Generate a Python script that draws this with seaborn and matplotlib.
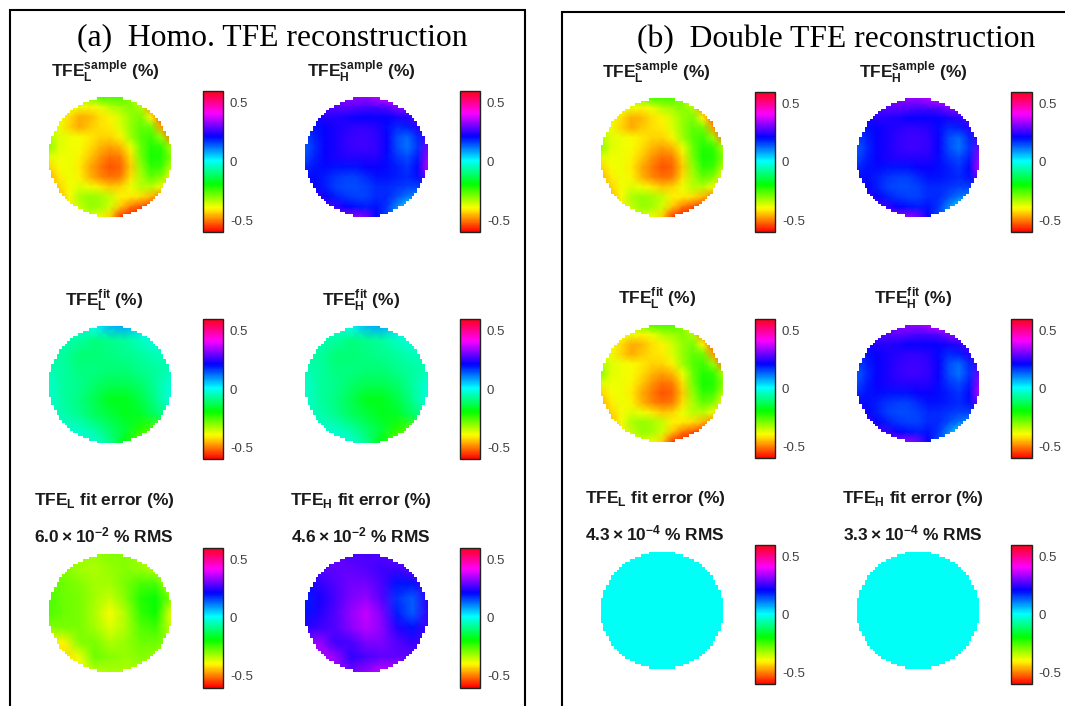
import matplotlib
matplotlib.use("Agg")
import matplotlib.pyplot as plt
import numpy as np
import seaborn as sns
from matplotlib.patches import Polygon, Rectangle

# TFE maps, in percent, row 0 is the top of the disc
sample_L = [
    [-.30, -.30, -.32, -.32, -.30, -.25, -.25, -.25, -.30, -.40, -.50, -.55, -.55],
    [-.38, -.38, -.38, -.38, -.40, -.38, -.34, -.32, -.30, -.33, -.48, -.55, -.55],
    [-.37, -.38, -.42, -.46, -.45, -.42, -.40, -.36, -.31, -.29, -.40, -.52, -.55],
    [-.35, -.38, -.43, -.46, -.44, -.42, -.41, -.37, -.31, -.27, -.28, -.47, -.55],
    [-.33, -.37, -.38, -.39, -.41, -.43, -.43, -.40, -.32, -.26, -.24, -.31, -.50],
    [-.30, -.37, -.38, -.39, -.42, -.45, -.47, -.45, -.38, -.28, -.22, -.23, -.33],
    [-.37, -.38, -.38, -.40, -.44, -.48, -.51, -.50, -.42, -.29, -.21, -.22, -.30],
    [-.43, -.39, -.38, -.41, -.46, -.50, -.53, -.52, -.44, -.31, -.23, -.24, -.34],
    [-.46, -.41, -.38, -.40, -.45, -.49, -.51, -.50, -.42, -.33, -.27, -.30, -.40],
    [-.46, -.43, -.39, -.37, -.38, -.41, -.44, -.43, -.38, -.34, -.34, -.38, -.45],
    [-.46, -.45, -.39, -.33, -.31, -.32, -.35, -.40, -.41, -.42, -.45, -.50, -.50],
    [-.46, -.45, -.41, -.35, -.31, -.32, -.36, -.44, -.50, -.53, -.55, -.55, -.55],
    [-.46, -.45, -.42, -.38, -.36, -.38, -.43, -.55, -.58, -.58, -.58, -.58, -.58],
]
sample_H = [
    [.30, .30, .30, .30, .32, .33, .33, .36, .38, .38, .38, .38, .38],
    [.28, .28, .28, .28, .29, .28, .27, .27, .28, .31, .33, .33, .33],
    [.22, .23, .24, .24, .23, .22, .22, .22, .22, .23, .24, .28, .30],
    [.17, .20, .22, .23, .24, .25, .25, .24, .21, .18, .19, .24, .30],
    [.16, .19, .22, .23, .25, .26, .26, .25, .22, .15, .13, .18, .26],
    [.14, .18, .22, .23, .25, .26, .26, .25, .22, .15, .12, .17, .30],
    [.15, .19, .22, .23, .24, .24, .24, .24, .21, .17, .15, .19, .33],
    [.18, .20, .21, .20, .20, .20, .22, .22, .21, .19, .17, .21, .36],
    [.21, .21, .19, .17, .16, .16, .18, .20, .20, .19, .18, .20, .30],
    [.24, .22, .19, .16, .15, .15, .16, .18, .18, .17, .16, .16, .20],
    [.28, .26, .22, .19, .17, .16, .16, .18, .18, .15, .12, .10, .10],
    [.30, .30, .28, .25, .22, .20, .19, .20, .17, .10, .04, .03, .03],
    [.32, .32, .32, .32, .32, .33, .30, .22, .15, .10, .03, .03, .03],
]
homo_fit = [
    [-.03, -.03, -.02, .00, .07, .08, .03, .00, .00],
    [-.05, -.05, -.07, -.09, -.08, -.07, -.04, -.01, .00],
    [-.06, -.07, -.10, -.10, -.09, -.08, -.07, -.05, -.04],
    [-.05, -.07, -.09, -.09, -.10, -.10, -.08, -.07, -.05],
    [-.03, -.07, -.08, -.11, -.13, -.13, -.11, -.07, -.02],
    [-.03, -.07, -.09, -.13, -.17, -.17, -.14, -.08, -.01],
    [-.03, -.06, -.08, -.12, -.15, -.17, -.16, -.11, -.06],
    [-.02, -.03, -.04, -.07, -.11, -.15, -.22, -.26, -.20],
    [-.01, -.01, -.01, -.02, -.08, -.18, -.28, -.30, -.30],
]
homo_err_L = [
    [-.30, -.30, -.31, -.31, -.30, -.30, -.32, -.36, -.38],
    [-.29, -.30, -.32, -.33, -.31, -.30, -.31, -.34, -.38],
    [-.27, -.28, -.30, -.32, -.32, -.29, -.25, -.25, -.36],
    [-.25, -.28, -.29, -.32, -.35, -.30, -.22, -.19, -.30],
    [-.25, -.28, -.29, -.33, -.39, -.33, -.23, -.20, -.38],
    [-.30, -.29, -.29, -.32, -.37, -.33, -.26, -.24, -.36],
    [-.40, -.40, -.30, -.29, -.33, -.31, -.28, -.28, -.30],
    [-.42, -.42, -.38, -.28, -.30, -.31, -.30, -.31, -.33],
    [-.42, -.42, -.38, -.34, -.33, -.33, -.33, -.33, -.33],
]
homo_err_H = [
    [.30, .30, .30, .27, .27, .28, .30, .32, .34],
    [.27, .28, .29, .29, .28, .26, .26, .29, .33],
    [.22, .25, .28, .30, .30, .27, .20, .20, .28],
    [.19, .23, .27, .31, .33, .28, .17, .14, .24],
    [.20, .24, .28, .33, .37, .31, .19, .14, .25],
    [.24, .26, .28, .32, .36, .32, .24, .20, .26],
    [.32, .33, .26, .27, .31, .31, .28, .25, .27],
    [.37, .36, .33, .25, .27, .29, .29, .29, .30],
    [.38, .37, .33, .30, .33, .37, .37, .35, .35],
]
double_err = [[0.0, 0.0], [0.0, 0.0]]

tick_vals = [-0.5, 0, 0.5]
tick_labels = ["-0.5", "0", "0.5"]

W, H = 1065, 706
DISC_CELLS = 46  # the original maps are about this many cells across

sns.set_style("white")
plt.rcParams["font.family"] = ["Liberation Sans", "DejaVu Sans"]
plt.rcParams["mathtext.fontset"] = "custom"
plt.rcParams["mathtext.rm"] = "Liberation Sans"
plt.rcParams["mathtext.bf"] = "Liberation Sans:bold"

fig = plt.figure(figsize=(W / 100, H / 100), dpi=100)


# axes from pixel box, y measured from the top of the image
def pixelAxes(x0, x1, y0, y1):
    return fig.add_axes([x0 / W, 1 - y1 / H, (x1 - x0) / W, (y1 - y0) / H])


def figText(x, y, s, **kw):
    fig.text(x / W, 1 - y / H, s, ha="center", va="center", **kw)


# stepped outline of the disc in axes coords, same look as the coarse sampling
def discOutline(ax):
    right = []
    for i in range(DISC_CELLS):
        yc = (i + 0.5) / DISC_CELLS - 0.5
        half = round(np.sqrt(0.25 - yc * yc) * DISC_CELLS) / DISC_CELLS
        right.append((0.5 + half, i / DISC_CELLS))
        right.append((0.5 + half, (i + 1) / DISC_CELLS))
    left = [(1 - x, y) for x, y in reversed(right)]
    return Polygon(right + left, transform=ax.transAxes, fc="none", ec="none")


# one disc map with its own colorbar
def drawMap(values, disc, bar):
    ax = pixelAxes(*disc)
    cax = pixelAxes(*bar)
    data = np.array(values)
    sns.heatmap(data, ax=ax, cbar_ax=cax, cmap="hsv", vmin=-0.6, vmax=0.6,
                xticklabels=False, yticklabels=False, shading="gouraud",
                cbar_kws={"ticks": tick_vals})
    n = data.shape[0] - 1
    ax.set_xlim(0, n)
    ax.set_ylim(n, 0)
    ax.axis("off")
    mesh = ax.collections[0]
    outline = discOutline(ax)
    ax.add_patch(outline)
    mesh.set_clip_path(outline)

    cax.set_yticklabels(tick_labels)
    cax.tick_params(axis="y", direction="in", length=2, width=0.6, color="#333333",
                    labelsize=9.5, labelcolor="#404040", pad=5, right=True)
    mesh.colorbar.outline.set_linewidth(1.0)
    mesh.colorbar.outline.set_edgecolor("#222222")


def sampleTitle(sub, sup):
    return r"$\mathbf{TFE}_{\mathbf{%s}}^{\mathbf{%s}}$ (%%)" % (sub, sup)


def errTitle(sub):
    return r"$\mathbf{TFE}_{\mathbf{%s}}$ fit error (%%)" % sub


def rmsTitle(mant, exp):
    return r"$\mathbf{%s\times10^{-%s}}$ %% RMS" % (mant, exp)


title_kw = dict(fontsize=12.5, fontweight="bold", color="#1a1a1a")

# panel frames, they run off the image on the open sides
fig.add_artist(Rectangle((9.5 / W, -0.05), 515 / W, 1.05 - 10.5 / H, transform=fig.transFigure,
                         fill=False, ec="black", lw=1.5))
fig.add_artist(Rectangle((562 / W, -0.05), 600 / W, 1.05 - 12 / H, transform=fig.transFigure,
                         fill=False, ec="black", lw=1.5))

figText(272, 38, "(a)  Homo. TFE reconstruction", family="Liberation Serif", fontsize=22.8, color="black")
figText(836, 40, "(b)  Double TFE reconstruction", family="Liberation Serif", fontsize=22.8, color="black")

# panel (a)
drawMap(sample_L, (48.7, 171.3, 97.3, 216.7), (203, 223, 91, 232))
drawMap(sample_H, (305, 427.7, 97.3, 216.7), (459.5, 480, 91, 232))
drawMap(homo_fit, (48.7, 171.3, 325.7, 443.3), (203, 223, 319, 459))
drawMap(homo_fit, (305, 427.7, 325.7, 443.3), (459.5, 480, 319, 459))
drawMap(homo_err_L, (48.7, 171.3, 554, 671.7), (203, 223, 547.5, 687.5))
drawMap(homo_err_H, (305, 427.7, 554, 671.7), (459.5, 480, 547.5, 687.5))

figText(105, 72, sampleTitle("L", "sample"), **title_kw)
figText(361, 72, sampleTitle("H", "sample"), **title_kw)
figText(104, 300, sampleTitle("L", "fit"), **title_kw)
figText(361, 300, sampleTitle("H", "fit"), **title_kw)
figText(104, 500, errTitle("L"), **title_kw)
figText(361, 500, errTitle("H"), **title_kw)
figText(104, 535, rmsTitle("6.0", "2"), **title_kw)
figText(361, 535, rmsTitle("4.6", "2"), **title_kw)

# panel (b)
drawMap(sample_L, (600.7, 723.3, 98.3, 216.7), (755, 775, 92, 232))
drawMap(sample_H, (856.7, 979.3, 98.3, 216.7), (1011.3, 1031.7, 92, 232))
drawMap(sample_L, (600.7, 723.3, 325, 441.7), (755, 775, 318.7, 458.3))
drawMap(sample_H, (856.7, 979.3, 325, 441.7), (1011.3, 1031.7, 318.7, 458.3))
drawMap(double_err, (600.7, 723.3, 551.7, 669), (755, 775, 545.3, 684.3))
drawMap(double_err, (856.7, 979.3, 551.7, 669), (1011.3, 1031.7, 545.3, 684.3))

figText(656, 73, sampleTitle("L", "sample"), **title_kw)
figText(913, 73, sampleTitle("H", "sample"), **title_kw)
figText(657, 298, sampleTitle("L", "fit"), **title_kw)
figText(913, 298, sampleTitle("H", "fit"), **title_kw)
figText(655, 499, errTitle("L"), **title_kw)
figText(913, 499, errTitle("H"), **title_kw)
figText(655, 533, rmsTitle("4.3", "4"), **title_kw)
figText(913, 533, rmsTitle("3.3", "4"), **title_kw)

fig.savefig("out.png", dpi=100)
